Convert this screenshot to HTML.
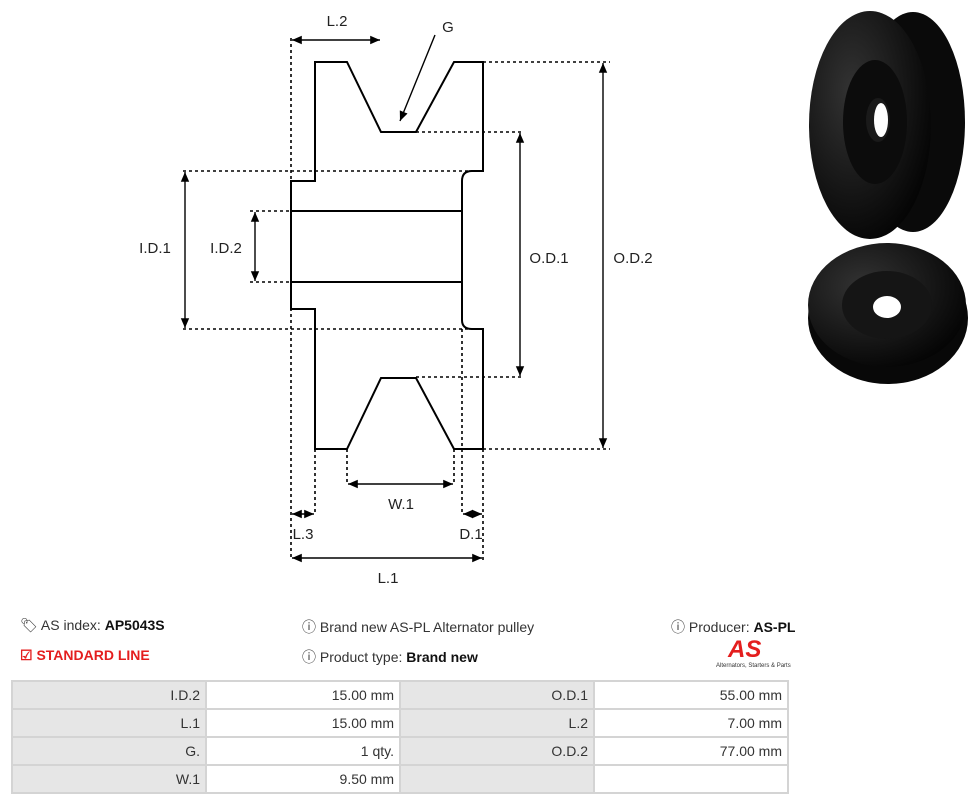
<!DOCTYPE html>
<html><head><meta charset="utf-8"><style>
body{margin:0;width:976px;height:804px;background:#fff;font-family:"Liberation Sans",sans-serif;position:relative;overflow:hidden}
.t{position:absolute;font-size:14px;color:#333;white-space:nowrap}
b{color:#111}
table{position:absolute;left:11px;top:680px;border-collapse:collapse;font-size:14px;color:#333;table-layout:fixed;width:777px}
tr{height:28px}
td{border:2px solid #d4d4d4;text-align:right;padding:0 5px;width:184px;box-sizing:border-box}
td.g{background:#e6e6e6}
</style></head><body>
<svg width="976" height="600" style="position:absolute;left:0;top:0" font-family="Liberation Sans" font-size="15" fill="#222">
<defs><marker id="a" markerWidth="8" markerHeight="8" refX="7" refY="4" orient="auto-start-reverse"><path d="M0,1 L7,4 L0,7 z" fill="#000"/></marker>
<radialGradient id="p" cx="0.35" cy="0.35" r="0.7"><stop offset="0" stop-color="#333"/><stop offset="1" stop-color="#050505"/></radialGradient></defs>
<g stroke="#000" stroke-width="1.6" stroke-dasharray="3,3" fill="none">
<path d="M183 171H483M183 329H483M250 211H291M250 282H291M416 132H523M416 377H523M483 62H610M483 449H610M291 38V560M483 449V560M315 449V515M462 329V515M347 449V485M454 449V485"/>
</g>
<path d="M291 181H315V62H347L381 132H416L454 62H483V171H472Q462 171 462 181V320Q462 329 472 329H483V449H454L416 378H381L347 449H315V309H291Z" fill="none" stroke="#000" stroke-width="2"/>
<path d="M291 211H462M291 282H462" stroke="#000" stroke-width="2"/>
<g stroke="#000" stroke-width="1.4" marker-start="url(#a)" marker-end="url(#a)">
<line x1="292" y1="40" x2="380" y2="40"/><line x1="185" y1="172" x2="185" y2="328"/><line x1="255" y1="212" x2="255" y2="281"/>
<line x1="520" y1="133" x2="520" y2="376"/><line x1="603" y1="63" x2="603" y2="448"/><line x1="348" y1="484" x2="453" y2="484"/>
<line x1="292" y1="514" x2="314" y2="514"/><line x1="463" y1="514" x2="482" y2="514"/><line x1="292" y1="558" x2="482" y2="558"/>
</g>
<line x1="435" y1="35" x2="400" y2="121" stroke="#000" stroke-width="1.4" marker-end="url(#a)"/>
<g text-anchor="middle"><text x="337" y="26">L.2</text><text x="448" y="32">G</text><text x="155" y="253">I.D.1</text><text x="226" y="253">I.D.2</text>
<text x="549" y="263">O.D.1</text><text x="633" y="263">O.D.2</text><text x="401" y="509">W.1</text><text x="303" y="539">L.3</text><text x="471" y="539">D.1</text><text x="388" y="583">L.1</text></g>
<ellipse cx="913" cy="122" rx="52" ry="110" fill="#0a0a0a"/>
<ellipse cx="870" cy="125" rx="61" ry="114" fill="url(#p)"/>
<ellipse cx="875" cy="122" rx="32" ry="62" fill="#0c0c0c"/>
<ellipse cx="878" cy="120" rx="12" ry="22" fill="#1a1a1a"/><ellipse cx="881" cy="120" rx="7" ry="17" fill="#fff"/>
<ellipse cx="888" cy="318" rx="80" ry="66" fill="#080808"/>
<ellipse cx="887" cy="305" rx="79" ry="62" fill="url(#p)"/>
<ellipse cx="887" cy="305" rx="45" ry="34" fill="#151515"/>
<ellipse cx="887" cy="307" rx="14" ry="11" fill="#fff"/>
</svg>
<div class="t" style="left:20px;top:617px">🏷 AS index: <b>AP5043S</b></div>
<div class="t" style="left:20px;top:647px;color:#e41e1e;font-weight:bold">☑ STANDARD LINE</div>
<div class="t" style="left:302px;top:617px">ⓘ Brand new AS-PL Alternator pulley</div>
<div class="t" style="left:302px;top:647px">ⓘ Product type: <b>Brand new</b></div>
<div class="t" style="left:671px;top:617px">ⓘ Producer: <b>AS-PL</b></div>
<div class="t" style="left:728px;top:636px;color:#e41e1e;font-size:24px;font-weight:bold;font-style:italic">AS</div>
<div class="t" style="left:716px;top:663px;font-size:6px">Alternators, Starters &amp; Parts</div>
<table>
<colgroup><col style="width:194px"><col style="width:194px"><col style="width:194px"><col style="width:194px"></colgroup>
<tr><td class="g">I.D.2</td><td>15.00 mm</td><td class="g">O.D.1</td><td>55.00 mm</td></tr>
<tr><td class="g">L.1</td><td>15.00 mm</td><td class="g">L.2</td><td>7.00 mm</td></tr>
<tr><td class="g">G.</td><td>1 qty.</td><td class="g">O.D.2</td><td>77.00 mm</td></tr>
<tr><td class="g">W.1</td><td>9.50 mm</td><td class="g"></td><td></td></tr>
</table>
</body></html>
